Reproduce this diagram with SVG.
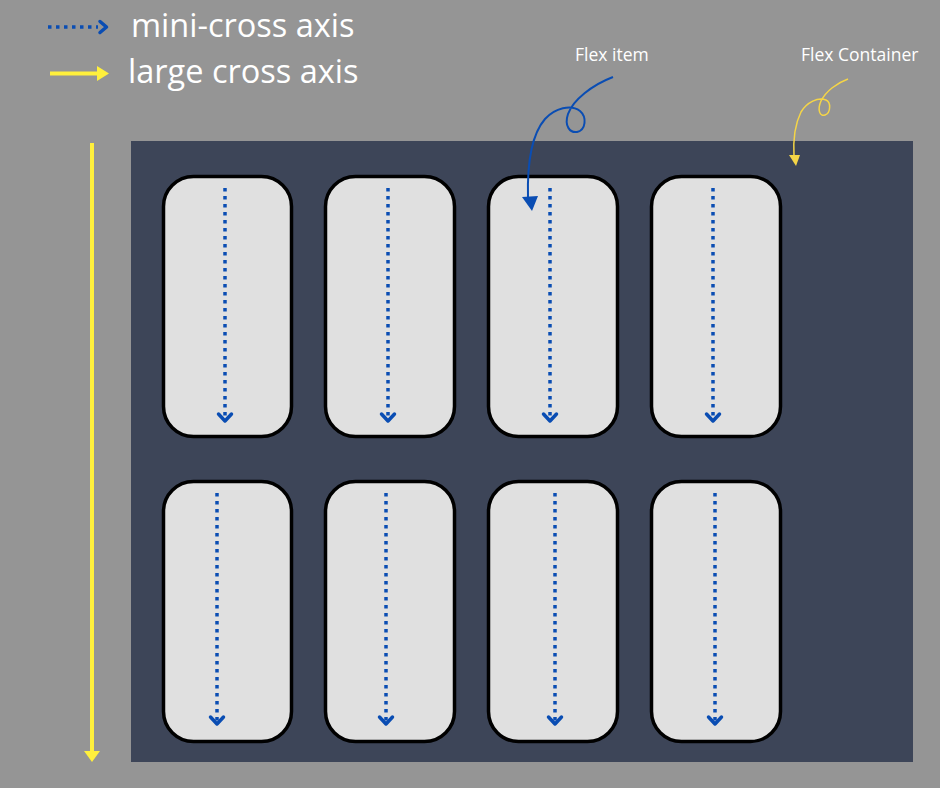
<svg xmlns="http://www.w3.org/2000/svg" width="940" height="788" viewBox="0 0 940 788">
<style>
.card{fill:#e0e0e0;stroke:#000;stroke-width:3.5}
.dots{stroke:#0a4db3;stroke-width:3.5;stroke-dasharray:3.5 4.5;fill:none}
.chev{stroke:#0a4db3;stroke-width:3.5;fill:none;stroke-linecap:round;stroke-linejoin:round}
.leg{font-family:"Open Sans","Liberation Sans",sans-serif;font-size:32.5px;fill:#fff}
.lbl{font-family:"Open Sans","Liberation Sans",sans-serif;font-size:17.5px;fill:#fff}
</style>
<rect width="940" height="788" fill="#959595"/>
<g id="container"><rect x="131" y="141" width="782" height="621" fill="#3d4558"/></g>
<g id="legend">
<line x1="48" y1="27" x2="98" y2="27" class="dots"/>
<polyline points="100,21.5 106.5,27 100,32.5" class="chev"/>
<text x="131" y="37" class="leg">mini-cross axis</text>
<line x1="50" y1="73.5" x2="98" y2="73.5" stroke="#fff03c" stroke-width="4"/>
<polygon points="97,66 109,73.5 97,81" fill="#fff03c"/>
<text x="128" y="83" class="leg">large cross axis</text>
</g>
<g id="labels">
<text x="575" y="61" class="lbl">Flex item</text>
<text x="801" y="61" class="lbl">Flex Container</text>
</g>
<g id="item-1"><rect x="163.5" y="176.5" width="128" height="260" rx="30" class="card"/></g>
<g id="item-2"><rect x="325.5" y="176.5" width="129" height="260" rx="30" class="card"/></g>
<g id="item-3"><rect x="488.5" y="176.5" width="129" height="260" rx="30" class="card"/></g>
<g id="item-4"><rect x="651.5" y="176.5" width="129" height="260" rx="30" class="card"/></g>
<g id="item-5"><rect x="163.5" y="481.5" width="128" height="260" rx="30" class="card"/></g>
<g id="item-6"><rect x="325.5" y="481.5" width="129" height="260" rx="30" class="card"/></g>
<g id="item-7"><rect x="488.5" y="481.5" width="129" height="260" rx="30" class="card"/></g>
<g id="item-8"><rect x="651.5" y="481.5" width="129" height="260" rx="30" class="card"/></g>
<g id="connectors">
<line x1="225" y1="188" x2="225" y2="420" class="dots"/><polyline points="218.5,414 225,421 231.5,414" class="chev"/>
<line x1="388" y1="188" x2="388" y2="420" class="dots"/><polyline points="381.5,414 388,421 394.5,414" class="chev"/>
<line x1="550" y1="188" x2="550" y2="420" class="dots"/><polyline points="543.5,414 550,421 556.5,414" class="chev"/>
<line x1="713" y1="188" x2="713" y2="420" class="dots"/><polyline points="706.5,414 713,421 719.5,414" class="chev"/>
<line x1="217" y1="493" x2="217" y2="723" class="dots"/><polyline points="210.5,717 217,724 223.5,717" class="chev"/>
<line x1="386" y1="493" x2="386" y2="723" class="dots"/><polyline points="379.5,717 386,724 392.5,717" class="chev"/>
<line x1="555" y1="493" x2="555" y2="723" class="dots"/><polyline points="548.5,717 555,724 561.5,717" class="chev"/>
<line x1="715" y1="493" x2="715" y2="723" class="dots"/><polyline points="708.5,717 715,724 721.5,717" class="chev"/>
<line x1="92" y1="143" x2="92" y2="753" stroke="#fff03c" stroke-width="4"/>
<polygon points="84,751 100,751 92,762" fill="#fff03c"/>
<path d="M613,77 C592,85 573,100 568,114 C564,126 570,133 577,132 C586,130 587,117 580,111 C571,104 555,108 545,119 C532,134 527,160 528,198" fill="none" stroke="#0a4db3" stroke-width="2"/>
<polygon points="522,197 538,196 532,211" fill="#0a4db3"/>
<path d="M848,79 C837,83 826,91 821,101 C817,110 820,117 825,115 C831,113 831,102 826,100 C818,97 807,102 801,112 C795,124 793,140 794,157" fill="none" stroke="#f5d547" stroke-width="1.5"/>
<polygon points="789,155 800,155 796,166" fill="#f5d547"/>
</g>
</svg>
